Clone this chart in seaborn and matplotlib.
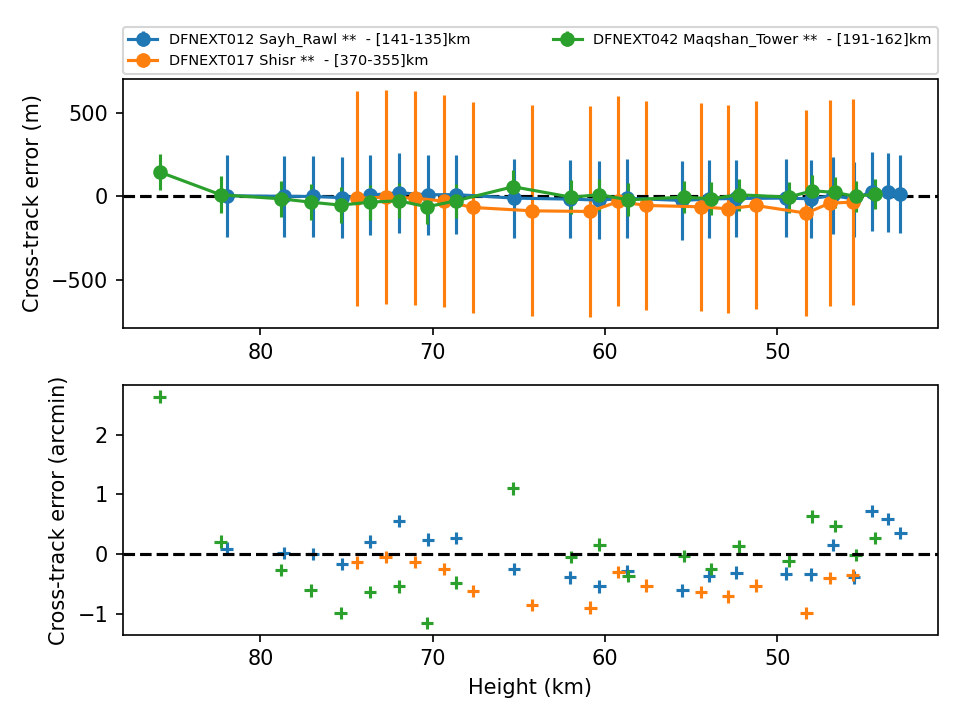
import numpy as np
import pandas as pd
import seaborn as sns
import matplotlib
matplotlib.use("Agg")
import matplotlib.pyplot as plt
from matplotlib.ticker import MultipleLocator

# station labels
labels = ["DFNEXT012 Sayh_Rawl **  - [141-135]km",
          "DFNEXT017 Shisr **  - [370-355]km",
          "DFNEXT042 Maqshan_Tower **  - [191-162]km"]
colors = ["#1f77b4", "#ff7f0e", "#2ca02c"]

# DFNEXT012
h_012 = [81.96, 78.66, 76.96, 75.27, 73.65, 71.96, 70.27, 68.65, 65.27, 62.03, 60.33,
         58.70, 55.51, 53.95, 52.37, 49.48, 48.06, 46.78, 45.56, 44.53, 43.60, 42.85]
err_m_012 = [4, 1, 0, -7, 8, 22, 10, 11, -10, -16, -22,
             -11, -24, -15, -12, -10, -14, 6, -16, 29, 24, 14]
sig_m_012 = [246, 243, 243, 241, 240, 240, 240, 237, 237, 234, 234,
             238, 236, 234, 232, 234, 234, 231, 225, 235, 234, 234]
err_am_012 = [0.09, 0.02, 0.0, -0.17, 0.21, 0.55, 0.24, 0.27, -0.25, -0.39, -0.54,
              -0.28, -0.61, -0.37, -0.31, -0.33, -0.34, 0.15, -0.39, 0.72, 0.59, 0.35]

# DFNEXT017
h_017 = [74.40, 72.73, 71.03, 69.36, 67.66, 64.23, 60.85, 59.22, 57.60, 54.42, 52.85,
         51.26, 48.31, 46.96, 45.62]
err_m_017 = [-12, -4, -10, -28, -66, -86, -90, -30, -54, -62, -74, -54, -100, -40, -34]
sig_m_017 = [643, 640, 640, 635, 633, 632, 630, 628, 625, 621, 621, 622, 616, 616, 615]
err_am_017 = [-0.14, -0.05, -0.13, -0.25, -0.62, -0.85, -0.90, -0.30, -0.53, -0.64, -0.71,
              -0.53, -0.99, -0.40, -0.35]

# DFNEXT042
h_042 = [85.85, 82.31, 78.82, 77.09, 75.35, 73.65, 71.96, 70.33, 68.65, 65.33, 61.98,
         60.33, 58.65, 55.41, 53.84, 52.25, 49.34, 47.97, 46.63, 45.45, 44.34]
err_m_042 = [146, 10, -14, -34, -52, -34, -26, -62, -26, 58, -4,
             10, -20, -4, -14, 10, -4, 34, 24, 0, 14]
sig_m_042 = [105, 110, 107, 107, 107, 105, 104, 103, 102, 100, 102,
             97, 98, 97, 98, 95, 93, 92, 93, 95, 92]
err_am_042 = [2.64, 0.21, -0.27, -0.61, -0.99, -0.64, -0.54, -1.16, -0.48, 1.10, -0.05,
              0.16, -0.37, -0.03, -0.25, 0.13, -0.11, 0.63, 0.47, -0.02, 0.27]

heights = [h_012, h_017, h_042]
errs_m = [err_m_012, err_m_017, err_m_042]
sigs_m = [sig_m_012, sig_m_017, sig_m_042]
errs_am = [err_am_012, err_am_017, err_am_042]

fig, (ax1, ax2) = plt.subplots(2, 1, figsize=(6.4, 4.8), dpi=150)

for h, e, s, lab, c in zip(heights, errs_m, sigs_m, labels, colors):
    ax1.errorbar(h, e, yerr=s, fmt='o-', color=c, label=lab)
ax1.axhline(0, color='k', ls='--')
ax1.invert_xaxis()
ax1.yaxis.set_major_locator(MultipleLocator(500))
ax1.set_ylabel("Cross-track error (m)")
ax1.legend(loc='lower left', bbox_to_anchor=(0, 1.02, 1, 0.102), mode='expand',
           borderaxespad=0, ncol=2, fontsize='x-small')

# bottom: angular error
df = pd.concat([pd.DataFrame({"Height": h, "err": e, "station": lab})
                for h, e, lab in zip(heights, errs_am, labels)], ignore_index=True)
sns.scatterplot(data=df, x="Height", y="err", hue="station", palette=colors,
                marker='+', s=36, linewidth=1.5, legend=False, ax=ax2)
ax2.axhline(0, color='k', ls='--')
ax2.invert_xaxis()
ax2.set_xlabel("Height (km)")
ax2.set_ylabel("Cross-track error (arcmin)")

plt.tight_layout(rect=(0, 0, 1, 0.994))
plt.savefig("out.png")
